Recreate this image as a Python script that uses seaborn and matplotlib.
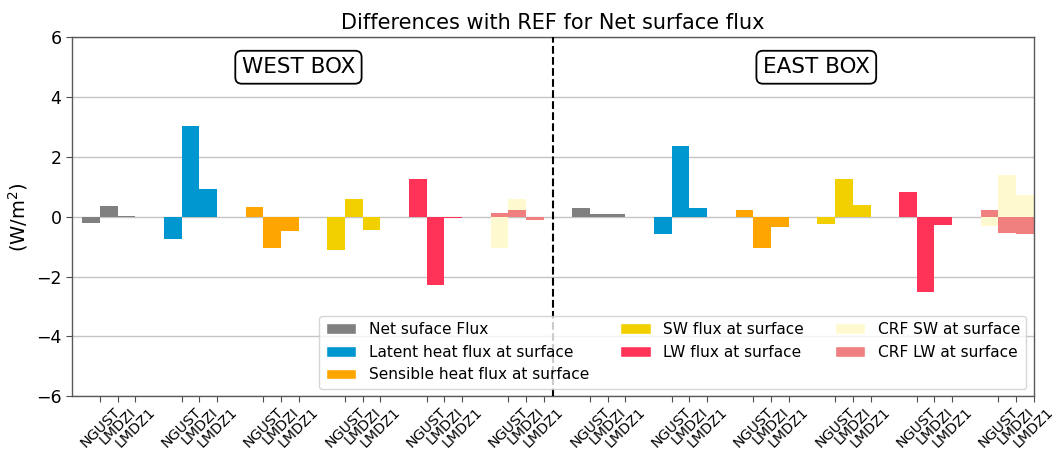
import numpy as np
import pandas as pd
import matplotlib
matplotlib.use("Agg")
import matplotlib.pyplot as plt
import matplotlib.transforms as mtransforms
from matplotlib.patches import Patch
import seaborn as sns

# ---- data (W/m2): model minus REF, for each flux term ----
models = ["NGUST", "LMDZI", "LMDZ1"]
variables = ["Net suface Flux", "Latent heat flux at surface",
             "Sensible heat flux at surface", "SW flux at surface",
             "LW flux at surface", "CRF SW at surface", "CRF LW at surface"]
colors = ["#808080", "#0096D0", "#FFA500", "#F2D000", "#FF3358",
          "#FFF9CF", "#F08080"]

west_net = [-0.20, 0.35, 0.03]
west_latent = [-0.75, 3.02, 0.94]
west_sensible = [0.33, -1.05, -0.47]
west_sw = [-1.10, 0.61, -0.44]
west_lw = [1.27, -2.28, -0.05]
west_crf_sw = [-1.05, 0.61, -0.05]
west_crf_lw = [0.13, 0.23, -0.09]

east_net = [0.31, 0.10, 0.10]
east_latent = [-0.57, 2.36, 0.31]
east_sensible = [0.24, -1.03, -0.33]
east_sw = [-0.23, 1.27, 0.40]
east_lw = [0.84, -2.52, -0.27]
east_crf_sw = [-0.32, 1.40, 0.74]
east_crf_lw = [0.22, -0.55, -0.57]

boxes = {
    "WEST BOX": [west_net, west_latent, west_sensible, west_sw, west_lw,
                 west_crf_sw, west_crf_lw],
    "EAST BOX": [east_net, east_latent, east_sensible, east_sw, east_lw,
                 east_crf_sw, east_crf_lw],
}

# ---- layout of the grouped bars ----
w = 0.217                      # bar width (group spacing = 1)
rows = []
group = 0
for box, series in boxes.items():
    for vi, vals in enumerate(series):
        # the two CRF terms share one group, overlaid
        g = group + min(vi, 5)
        for mi, v in enumerate(vals):
            tick = g + mi * w
            rows.append({"pos": round(tick - w / 2, 4), "tick": tick,
                         "value": v, "var": variables[vi], "model": models[mi]})
    group += 6
df = pd.DataFrame(rows)

sns.set_style("whitegrid")
plt.rcParams["font.family"] = ["DejaVu Sans"]
for key in ["text.color", "axes.labelcolor", "xtick.color", "ytick.color"]:
    plt.rcParams[key] = "black"

fig = plt.figure(figsize=(10.55, 4.54), dpi=100)
ax = fig.add_axes([0.0682, 0.1271, 0.9118, 0.7907])

sns.barplot(data=df, x="pos", y="value", hue="var", hue_order=variables,
            palette=dict(zip(variables, colors)), native_scale=True,
            dodge=False, width=1.0, saturation=1, errorbar=None,
            legend=False, ax=ax, zorder=2, linewidth=0, edgecolor="none")

ticks = sorted(df["tick"].unique())
ax.set_xticks(ticks)
ax.set_xticklabels(models * 12, rotation=45, fontsize=10.3)
shift = mtransforms.ScaledTranslation(-7 / 100, 0, fig.dpi_scale_trans)
for lbl in ax.get_xticklabels():
    lbl.set_transform(lbl.get_transform() + shift)
ax.set_xlim(-0.343, 11 + 2 * w)
ax.set_ylim(-6, 6)
ax.set_yticks(np.arange(-6, 7, 2))
ax.tick_params(axis="y", labelsize=12.5, length=4, color="0.3", left=True)
ax.tick_params(axis="x", length=4, color="0.3", bottom=True, pad=2.5)
ax.set_xlabel("")
ax.set_ylabel("(W/m$^2$)", fontsize=14)
ax.set_title("Differences with REF for Net surface flux", fontsize=15)

ax.xaxis.grid(False)
ax.yaxis.grid(True, color="#c4c4c4", lw=1)
ax.set_axisbelow(True)
for s in ax.spines.values():
    s.set_color("0.35")
    s.set_linewidth(1)

# separator between the two regions
ax.axvline(5 + 2.5 * w, color="black", ls="--", lw=1.5, zorder=3)

box_style = dict(boxstyle="round,pad=0.3", fc="white", ec="black", lw=1.3)
ax.text(2.43, 5.0, "WEST BOX", ha="center", va="center", fontsize=15.5,
        bbox=box_style)
ax.text(8.77, 5.0, "EAST BOX", ha="center", va="center", fontsize=15.5,
        bbox=box_style)

handles = [Patch(facecolor=c, label=l) for c, l in zip(colors, variables)]
ax.legend(handles=handles, loc="lower right", ncol=3, fontsize=11.1,
          frameon=True, fancybox=True)

fig.savefig("out.png", dpi=100)
